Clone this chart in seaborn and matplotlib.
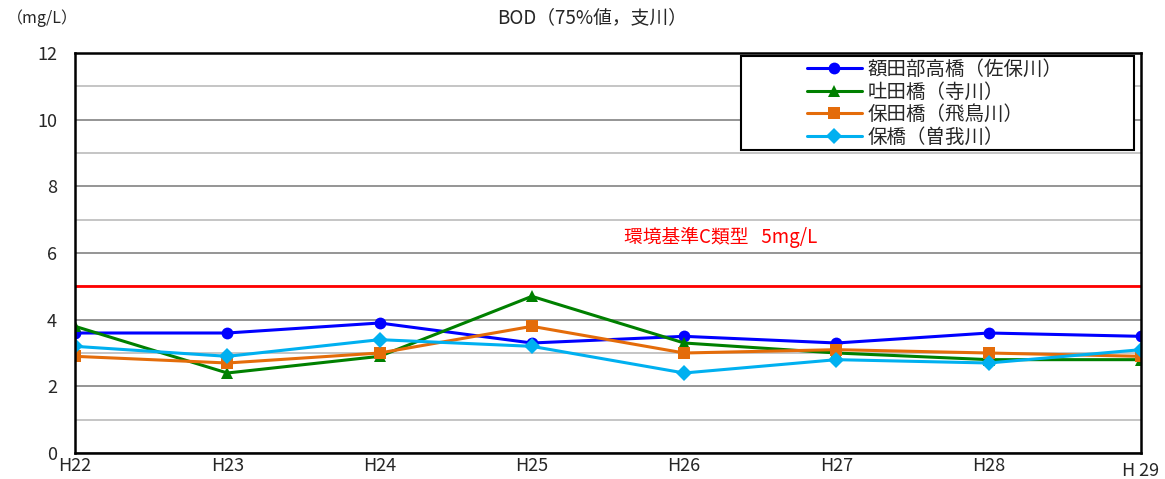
import pandas as pd
import numpy as np
import matplotlib
matplotlib.use("Agg")
import matplotlib.pyplot as plt
from matplotlib.patches import Rectangle
import seaborn as sns

# data
years = ["H22", "H23", "H24", "H25", "H26", "H27", "H28", "H29"]
tick_labels = ["H22", "H23", "H24", "H25", "H26", "H27", "H28", "H 29"]
sites = ["額田部高橋（佐保川）", "吐田橋（寺川）", "保田橋（飛鳥川）", "保橋（曽我川）"]
nukatabe = [3.6, 3.6, 3.9, 3.3, 3.5, 3.3, 3.6, 3.5]
hanta = [3.8, 2.4, 2.9, 4.7, 3.3, 3.0, 2.8, 2.8]
hoda = [2.9, 2.7, 3.0, 3.8, 3.0, 3.1, 3.0, 2.9]
hobashi = [3.2, 2.9, 3.4, 3.2, 2.4, 2.8, 2.7, 3.1]
standard = 5
colors = ["#0000FF", "#008000", "#E46C0A", "#00B0F0"]
markers = ["o", "^", "s", "D"]

df = pd.DataFrame({
    "year": years * 4,
    "site": np.repeat(sites, len(years)),
    "value": nukatabe + hanta + hoda + hobashi,
})

sns.set_style("white")
plt.rcParams["font.family"] = ["Noto Sans CJK JP", "DejaVu Sans"]

fig = plt.figure(figsize=(11.65, 4.79), dpi=100)
ax = fig.add_axes([0.0644, 0.0543, 0.915, 0.835])

sns.lineplot(data=df, x="year", y="value", hue="site", style="site",
             markers=markers, dashes=False, palette=colors, linewidth=2.2,
             markersize=8.5, markeredgewidth=0, ax=ax)

ax.axhline(standard, color="#FF0000", linewidth=2, zorder=1)
ax.text(4.24, 6.48, "環境基準C類型   5mg/L",
        color="#FF0000", fontsize=13.5, ha="center", va="center")

ax.set_xlim(0, len(years) - 1)
ax.set_ylim(0, 12)
ax.set_xticks(range(len(years)), tick_labels)
ax.set_xticks([2, 4, 6], minor=True)
ax.set_yticks(range(0, 13, 2))
ax.set_yticks(range(1, 12, 2), minor=True)
ax.grid(axis="y", which="major", color="#8C8C8C", linewidth=1.3, zorder=0)
ax.grid(axis="y", which="minor", color="#C0C0C0", linewidth=1.3, zorder=0)
ax.tick_params(axis="y", which="major", length=0, labelsize=13, pad=13)
ax.tick_params(axis="y", which="minor", direction="in", length=4, width=1.2)
ax.tick_params(axis="x", which="major", length=0, labelsize=13, pad=3)
ax.tick_params(axis="x", which="minor", direction="in", length=5, width=1.2)
ax.set_xlabel("")
ax.set_ylabel("")
for s in ax.spines.values():
    s.set_color("black")
    s.set_linewidth(1.8)
ax.get_xticklabels()[-1].set_y(-0.012)

# legend with Excel-style wide box
ax.add_patch(Rectangle((0.6248, 0.7575), 0.3686, 0.235, transform=ax.transAxes,
                       facecolor="white", edgecolor="black", linewidth=1.5, zorder=5))
leg = ax.legend(loc="upper left", bbox_to_anchor=(0.685, 0.99), fontsize=14,
                frameon=False, handlelength=2.8, borderpad=0.1, labelspacing=0.08,
                borderaxespad=0, handletextpad=0.3)
leg.set_zorder(6)

fig.text(0.508, 0.962, "BOD（75%値，支川）", fontsize=13.5, ha="center", va="center")
fig.text(0.006, 0.962, "（mg/L）", fontsize=11.5, ha="left", va="center")

fig.savefig("out.png", dpi=100)
